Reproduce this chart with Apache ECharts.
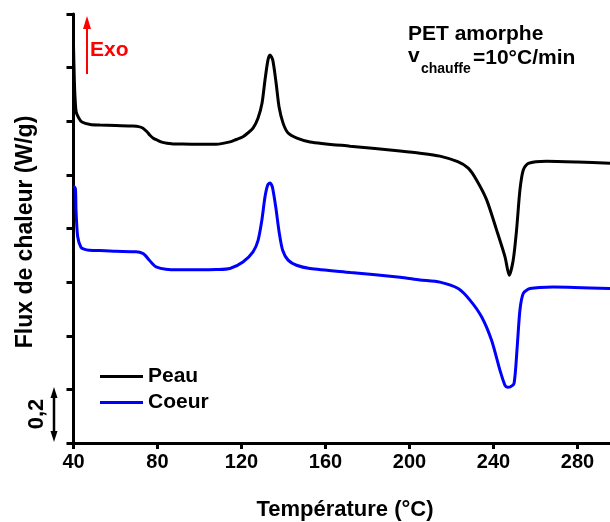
<!DOCTYPE html>
<html>
<head>
<meta charset="utf-8">
<script src="https://cdn.jsdelivr.net/npm/echarts@6/dist/echarts.min.js"></script>
<style>
html,body{margin:0;padding:0;background:#fff;}
#chart{width:610px;height:522px;}
</style>
</head>
<body>
<div id="chart"></div>
<script>
// ---- data (Température °C, Flux de chaleur W/g) ----
const xTicks = [40, 80, 120, 160, 200, 240, 280];
const seriesNames = ['Peau', 'Coeur'];

const tempPeau = [40.0, 40.4, 40.8, 41.3, 42.5, 44, 48, 52.6, 60, 68.3, 71, 73.1, 75, 76.4, 78, 79.8, 82, 84.5, 88, 92.1, 100, 108, 114.5, 117.5, 120.7, 123, 125.5, 127.9, 129.8, 131.2, 132.6, 133.6, 134.9, 136.5, 137.9, 139.8, 142.2, 146.4, 152.6, 171.7, 195.5, 205, 214.5, 223, 228, 232, 236.8, 241.5, 245.5, 247.5, 249.4, 251, 252.6, 254.2, 256.6, 265.3, 280, 295.5];
const fluxPeau = [1.484, 1.354, 1.279, 1.234, 1.212, 1.197, 1.188, 1.186, 1.184, 1.182, 1.180, 1.174, 1.161, 1.148, 1.137, 1.130, 1.122, 1.118, 1.115, 1.115, 1.114, 1.114, 1.123, 1.132, 1.142, 1.156, 1.174, 1.212, 1.268, 1.354, 1.428, 1.447, 1.428, 1.342, 1.253, 1.193, 1.156, 1.137, 1.123, 1.107, 1.089, 1.081, 1.070, 1.049, 1.025, 0.980, 0.906, 0.794, 0.694, 0.626, 0.682, 0.794, 0.943, 1.018, 1.043, 1.051, 1.048, 1.043];

const tempCoeur = [40.0, 40.9, 41.2, 42, 43.6, 45, 47.5, 55, 60.2, 69.8, 73, 74.5, 76.1, 77.8, 79.3, 84, 90, 100, 108, 114.5, 120.7, 125.5, 127.9, 129.7, 131.2, 132.5, 133.6, 134.7, 136.3, 138, 139.6, 142.2, 146.2, 152.6, 172, 195.5, 205, 214.5, 223.2, 228.8, 234.4, 239.1, 243.1, 245.5, 246.8, 247.9, 249.8, 251.3, 252.6, 254.2, 257.4, 268.5, 295.5];
const fluxCoeur = [0.958, 0.949, 0.868, 0.769, 0.729, 0.723, 0.719, 0.717, 0.715, 0.713, 0.707, 0.697, 0.682, 0.667, 0.657, 0.648, 0.646, 0.646, 0.647, 0.651, 0.675, 0.713, 0.756, 0.831, 0.918, 0.962, 0.970, 0.955, 0.881, 0.783, 0.719, 0.682, 0.663, 0.651, 0.636, 0.618, 0.608, 0.600, 0.576, 0.533, 0.470, 0.383, 0.271, 0.215, 0.208, 0.209, 0.222, 0.358, 0.495, 0.558, 0.576, 0.582, 0.576];

const zip = (a, b) => a.map((v, i) => [v, b[i]]);

const FONT = '"Liberation Sans", Arial, sans-serif';
const chart = echarts.init(document.getElementById('chart'), null, {renderer: 'canvas'});

const option = {
  animation: false,
  backgroundColor: '#fff',
  grid: {left: 73.5, right: 0, top: 14, bottom: 79, containLabel: false},
  legend: {
    orient: 'vertical',
    left: 95, top: 361,
    itemWidth: 43, itemHeight: 3, itemGap: 5,
    icon: 'rect',
    textStyle: {fontFamily: FONT, fontWeight: 'bold', fontSize: 21, color: '#000'},
    data: seriesNames
  },
  xAxis: [{
    type: 'value', min: 40, max: 295.5, interval: 40,
    axisLine: {show: true, onZero: false, lineStyle: {color: '#000', width: 3}},
    axisTick: {show: true, length: 6, lineStyle: {color: '#000', width: 3}},
    axisLabel: {show: true, margin: 9, fontFamily: FONT, fontWeight: 'bold', fontSize: 20, color: '#000', showMaxLabel: false,
      formatter: v => xTicks.includes(v) ? String(v) : ''},
    splitLine: {show: false}
  }, {
    type: 'value', min: 40, max: 295.5, position: 'top',
    axisLine: {show: true, lineStyle: {color: '#000', width: 3}},
    axisTick: {show: false}, axisLabel: {show: false}, splitLine: {show: false}
  }],
  yAxis: {
    type: 'value', min: 0, max: 1.6, interval: 0.2,
    axisLine: {show: true, onZero: false, lineStyle: {color: '#000', width: 3}},
    axisTick: {show: true, length: 7, lineStyle: {color: '#000', width: 3}},
    axisLabel: {show: false},
    splitLine: {show: false}
  },
  series: [
    {name: 'Peau', type: 'line', data: zip(tempPeau, fluxPeau), showSymbol: false, symbol: 'none', smooth: 0.25,
     lineStyle: {color: '#000', width: 3}, itemStyle: {color: '#000'}},
    {name: 'Coeur', type: 'line', data: zip(tempCoeur, fluxCoeur), showSymbol: false, symbol: 'none', smooth: 0.25,
     lineStyle: {color: '#0000ff', width: 3}, itemStyle: {color: '#0000ff'}}
  ],
  graphic: [
    {type: 'text', left: 408, top: 24, style: {text: 'PET amorphe', font: 'bold 21px ' + FONT, fill: '#000'}},
    {type: 'text', left: 408, top: 46, style: {text: 'v', font: 'bold 21px ' + FONT, fill: '#000'}},
    {type: 'text', left: 421, top: 62, style: {text: 'chauffe', font: 'bold 14px ' + FONT, fill: '#000'}},
    {type: 'text', left: 473, top: 48, style: {text: '=10°C/min', font: 'bold 21px ' + FONT, fill: '#000'}},
    // Exo arrow
    {type: 'line', shape: {x1: 87, y1: 74, x2: 87, y2: 26}, style: {stroke: '#ff0000', lineWidth: 2}},
    {type: 'polygon', shape: {points: [[87, 16], [83, 29], [91, 29]]}, style: {fill: '#ff0000'}},
    {type: 'text', left: 90, top: 40, style: {text: 'Exo', font: 'bold 21px ' + FONT, fill: '#ff0000'}},
    // scale bar
    {type: 'line', shape: {x1: 54, y1: 395, x2: 54, y2: 434}, style: {stroke: '#000', lineWidth: 2.5}},
    {type: 'polygon', shape: {points: [[54, 387], [50.5, 398], [57.5, 398]]}, style: {fill: '#000'}},
    {type: 'polygon', shape: {points: [[54, 442], [50.5, 431], [57.5, 431]]}, style: {fill: '#000'}},
    {type: 'text', x: 37, y: 414, rotation: Math.PI / 2,
     style: {text: '0,2', font: 'bold 22px ' + FONT, fill: '#000', textAlign: 'center', textVerticalAlign: 'middle'}},
    // axis names
    {type: 'text', x: 26, y: 232, rotation: Math.PI / 2,
     style: {text: 'Flux de chaleur (W/g)', font: 'bold 23px ' + FONT, fill: '#000', textAlign: 'center', textVerticalAlign: 'middle'}},
    {type: 'text', x: 345, y: 510,
     style: {text: 'Température (°C)', font: 'bold 22px ' + FONT, fill: '#000', textAlign: 'center', textVerticalAlign: 'middle'}}
  ]
};
chart.setOption(option);
</script>
</body>
</html>
